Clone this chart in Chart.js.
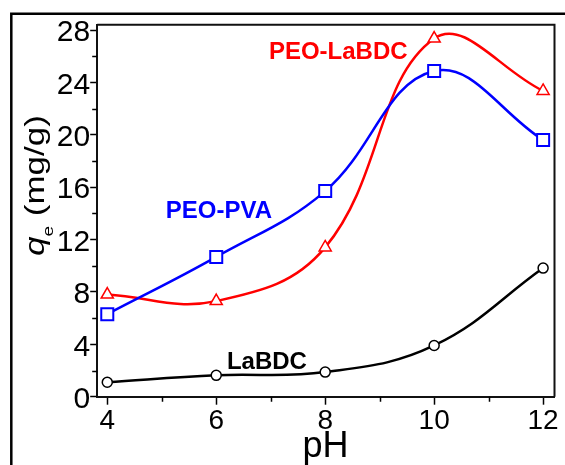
<!DOCTYPE html>
<html>
<head>
<meta charset="utf-8">
<script src="https://cdn.jsdelivr.net/npm/chart.js@4/dist/chart.umd.min.js"></script>
<style>
  html, body { margin: 0; padding: 0; background: #fff; }
  canvas { display: block; }
</style>
</head>
<body>
<canvas id="c" width="565" height="465" style="width:565px;height:465px"></canvas>
<script>
// ---- data ----
const pH = [4, 6, 8, 10, 12];
const labbdc = [1.1, 1.63, 1.88, 3.91, 9.82];
const peoPva = [6.3, 10.67, 15.7, 24.87, 19.6];
const peoLabdc = [7.8, 7.3, 11.4, 27.35, 23.35];
const seriesNames = ['LaBDC', 'PEO-PVA', 'PEO-LaBDC'];
const xMajorTicks = [4, 6, 8, 10, 12];
const xMinorTicks = [5, 7, 9, 11];
const yMajorTicks = [0, 4, 8, 12, 16, 20, 24, 28];
const yMinorTicks = [2, 6, 10, 14, 18, 22, 26];
const xTitle = 'pH';
const yTitleParts = ['q', 'e', ' (mg/g)'];

const FONT = '"Liberation Sans", Arial, sans-serif';
Chart.defaults.font.family = FONT;
Chart.defaults.color = '#000';

const toXY = arr => pH.map((x, i) => ({ x: x, y: arr[i] }));

const decor = {
  id: 'decor',
  beforeDraw(chart) {
    const ctx = chart.ctx;
    ctx.save();
    ctx.fillStyle = '#fff';
    ctx.fillRect(0, 0, chart.width, chart.height);
    // outer frame
    ctx.strokeStyle = '#000';
    ctx.lineWidth = 2.5;
    ctx.beginPath();
    ctx.moveTo(11.3, chart.height + 2);
    ctx.lineTo(11.3, 13.8);
    ctx.lineTo(chart.width + 2, 13.8);
    ctx.stroke();
    ctx.restore();
  },
  afterDraw(chart) {
    const ctx = chart.ctx;
    const a = chart.chartArea;
    const xs = chart.scales.x, ys = chart.scales.y;
    ctx.save();
    // plot box top and right
    ctx.strokeStyle = '#111';
    ctx.lineWidth = 2;
    ctx.beginPath();
    ctx.moveTo(a.left, a.top);
    ctx.lineTo(a.right, a.top);
    ctx.lineTo(a.right, a.bottom);
    ctx.stroke();
    // minor ticks
    ctx.lineWidth = 1.5;
    ctx.strokeStyle = '#000';
    ctx.beginPath();
    xMinorTicks.forEach(v => {
      const px = Math.round(xs.getPixelForValue(v)) + 0.5;
      ctx.moveTo(px, a.bottom);
      ctx.lineTo(px, a.bottom + 5);
    });
    yMinorTicks.forEach(v => {
      const py = Math.round(ys.getPixelForValue(v)) + 0.5;
      ctx.moveTo(a.left - 5, py);
      ctx.lineTo(a.left, py);
    });
    ctx.stroke();

    // series labels (anchored in data coordinates)
    const labels = [
      { text: seriesNames[2], color: '#ff0000', x: 8.24, y: 26.47 },
      { text: seriesNames[1], color: '#0000ff', x: 6.05, y: 14.27 },
      { text: seriesNames[0], color: '#000000', x: 6.93, y: 2.78 }
    ];
    ctx.font = 'bold 24px ' + FONT;
    ctx.textAlign = 'center';
    ctx.textBaseline = 'alphabetic';
    labels.forEach(l => {
      ctx.fillStyle = l.color;
      ctx.fillText(l.text, xs.getPixelForValue(l.x), ys.getPixelForValue(l.y) + 8.5);
    });

    // x title
    ctx.fillStyle = '#000';
    ctx.font = '36px ' + FONT;
    ctx.fillText(xTitle, 325.5, 456.7);

    // y title: italic q, subscript e, (mg/g)
    ctx.translate(43.5, 256);
    ctx.rotate(-Math.PI / 2);
    ctx.scale(1, 0.78);
    ctx.textAlign = 'left';
    let x = 0;
    ctx.font = 'italic 35px ' + FONT;
    ctx.fillText(yTitleParts[0], x, 0);
    x += ctx.measureText(yTitleParts[0]).width;
    ctx.font = '19px ' + FONT;
    ctx.fillText(yTitleParts[1], x, 12.2);
    x += ctx.measureText(yTitleParts[1]).width;
    ctx.font = '35px ' + FONT;
    ctx.fillText(yTitleParts[2], x, 0);
    ctx.restore();
  }
};

new Chart(document.getElementById('c'), {
  type: 'scatter',
  data: {
    datasets: [
      {
        label: seriesNames[0], data: toXY(labbdc), showLine: true,
        borderColor: '#000', borderWidth: 2.5, tension: 0.4,
        pointStyle: 'circle', pointRadius: 5, pointBorderWidth: 1.5,
        pointBackgroundColor: '#fff', pointBorderColor: '#000'
      },
      {
        label: seriesNames[1], data: toXY(peoPva), showLine: true,
        borderColor: '#0000ff', borderWidth: 2.5, tension: 0.4,
        pointStyle: 'rect', pointRadius: 8.5, pointBorderWidth: 2,
        pointBackgroundColor: '#fff', pointBorderColor: '#0000ff'
      },
      {
        label: seriesNames[2], data: toXY(peoLabdc), showLine: true,
        borderColor: '#ff0000', borderWidth: 2.5, tension: 0.4,
        pointStyle: 'triangle', pointRadius: 7, pointBorderWidth: 1.5,
        pointBackgroundColor: '#fff', pointBorderColor: '#ff0000'
      }
    ]
  },
  options: {
    responsive: false,
    animation: false,
    devicePixelRatio: 1,
    layout: { padding: { top: 24.7, right: 5.8, left: 0, bottom: 0 } },
    plugins: { legend: { display: false }, tooltip: { enabled: false } },
    elements: { line: { capBezierPoints: false } },
    scales: {
      x: {
        type: 'linear', min: 3.815, max: 12.209,
        afterBuildTicks: s => { s.ticks = xMajorTicks.map(v => ({ value: v })); },
        afterFit: s => { s.height = 68.3; s.paddingLeft = 0; s.paddingRight = 0; },
        ticks: { font: { size: 28 }, color: '#000', padding: 0, maxRotation: 0, autoSkip: false },
        grid: { display: true, drawOnChartArea: false, drawTicks: true, tickLength: 8, tickWidth: 1.5, tickColor: '#000' },
        border: { display: true, color: '#111', width: 2 }
      },
      y: {
        type: 'linear', min: 0, max: 28.405,
        afterBuildTicks: s => { s.ticks = yMajorTicks.map(v => ({ value: v })); },
        afterFit: s => { s.width = 97.2; s.paddingTop = 0; s.paddingBottom = 0; },
        ticks: { font: { size: 30 }, color: '#000', padding: 0, labelOffset: 3, autoSkip: false },
        grid: { display: true, drawOnChartArea: false, drawTicks: true, tickLength: 7, tickWidth: 1.5, tickColor: '#000' },
        border: { display: true, color: '#111', width: 2 }
      }
    }
  },
  plugins: [decor]
});
</script>
</body>
</html>
